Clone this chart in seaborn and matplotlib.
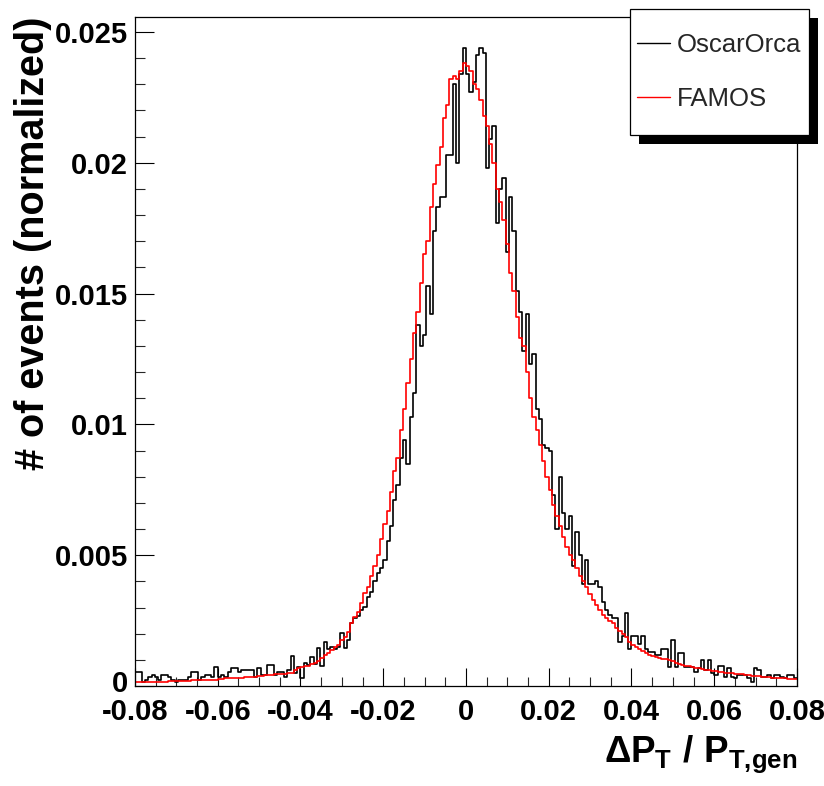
import numpy as np
import pandas as pd
import matplotlib
matplotlib.use("Agg")
import matplotlib.pyplot as plt
import seaborn as sns
from matplotlib.patches import Rectangle
from matplotlib.lines import Line2D
from matplotlib.transforms import ScaledTranslation

# ---------------- data ----------------
x_min, x_max, n_bins = -0.08, 0.08, 200

oscarorca = [
    0.00055, 0.00055, 0.00017, 0.00023, 0.00036, 0.00042, 0.00036, 0.00023, 0.00042, 0.00042,
    0.00036, 0.00023, 0.00017, 0.00023, 0.00023, 0.00023, 0.00036, 0.00055, 0.00055, 0.00023,
    0.00036, 0.00042, 0.00042, 0.00036, 0.00074, 0.00036, 0.00042, 0.00036, 0.00055, 0.00067,
    0.00067, 0.00055, 0.00061, 0.00061, 0.00061, 0.00061, 0.00036, 0.00067, 0.00042, 0.00042,
    0.00080, 0.00080, 0.00042, 0.00055, 0.00055, 0.00036, 0.00061, 0.00115, 0.00050, 0.00074,
    0.00029, 0.00087, 0.00080, 0.00112, 0.00084, 0.00144, 0.00076, 0.00169, 0.00140, 0.00148,
    0.00140, 0.00148, 0.00201, 0.00144, 0.00176, 0.00239, 0.00258, 0.00267, 0.00290, 0.00303,
    0.00341, 0.00360, 0.00400, 0.00430, 0.00450, 0.00480, 0.00555, 0.00610, 0.00710, 0.00770,
    0.00870, 0.00940, 0.00850, 0.01030, 0.01120, 0.01380, 0.01300, 0.01340, 0.01530, 0.01420,
    0.01740, 0.01830, 0.01870, 0.01870, 0.02030, 0.02030, 0.02300, 0.02000, 0.02340, 0.02440,
    0.02340, 0.02270, 0.02310, 0.02410, 0.02440, 0.02420, 0.01980, 0.02090, 0.02140, 0.01770,
    0.01900, 0.01940, 0.01660, 0.01870, 0.01740, 0.01510, 0.01430, 0.01280, 0.01420, 0.01230,
    0.01270, 0.01060, 0.01020, 0.00920, 0.00910, 0.00900, 0.00730, 0.00600, 0.00800, 0.00660,
    0.00600, 0.00650, 0.00460, 0.00590, 0.00500, 0.00390, 0.00480, 0.00390, 0.00390, 0.00400,
    0.00380, 0.00320, 0.00290, 0.00270, 0.00260, 0.00260, 0.00170, 0.00190, 0.00280, 0.00140,
    0.00190, 0.00190, 0.00160, 0.00190, 0.00140, 0.00130, 0.00130, 0.00120, 0.00120, 0.00140,
    0.00140, 0.00074, 0.00176, 0.00074, 0.00125, 0.00125, 0.00074, 0.00074, 0.00074, 0.00055,
    0.00067, 0.00099, 0.00061, 0.00099, 0.00048, 0.00042, 0.00076, 0.00076, 0.00036, 0.00067,
    0.00036, 0.00029, 0.00042, 0.00042, 0.00042, 0.00029, 0.00017, 0.00067, 0.00060, 0.00036,
    0.00036, 0.00042, 0.00029, 0.00042, 0.00042, 0.00036, 0.00029, 0.00042, 0.00042, 0.00029,
]

famos = [
    0.00014, 0.00014, 0.00015, 0.00015, 0.00015, 0.00016, 0.00016, 0.00016, 0.00017, 0.00017,
    0.00018, 0.00019, 0.00020, 0.00020, 0.00021, 0.00021, 0.00021, 0.00022, 0.00022, 0.00022,
    0.00023, 0.00023, 0.00023, 0.00023, 0.00024, 0.00025, 0.00027, 0.00029, 0.00029, 0.00030,
    0.00030, 0.00031, 0.00032, 0.00033, 0.00034, 0.00035, 0.00036, 0.00038, 0.00040, 0.00041,
    0.00043, 0.00043, 0.00044, 0.00045, 0.00046, 0.00047, 0.00049, 0.00051, 0.00061, 0.00067,
    0.00071, 0.00076, 0.00077, 0.00083, 0.00089, 0.00097, 0.00106, 0.00118, 0.00125, 0.00137,
    0.00148, 0.00156, 0.00176, 0.00188, 0.00207, 0.00239, 0.00262, 0.00284, 0.00316, 0.00354,
    0.00380, 0.00420, 0.00460, 0.00500, 0.00560, 0.00620, 0.00670, 0.00740, 0.00820, 0.00870,
    0.00980, 0.01060, 0.01160, 0.01250, 0.01350, 0.01430, 0.01540, 0.01650, 0.01700, 0.01830,
    0.01920, 0.01990, 0.02060, 0.02170, 0.02220, 0.02320, 0.02330, 0.02320, 0.02350, 0.02380,
    0.02370, 0.02350, 0.02300, 0.02280, 0.02240, 0.02180, 0.02140, 0.02070, 0.02000, 0.01900,
    0.01850, 0.01780, 0.01690, 0.01580, 0.01510, 0.01410, 0.01330, 0.01300, 0.01200, 0.01100,
    0.01030, 0.00980, 0.00920, 0.00860, 0.00800, 0.00750, 0.00690, 0.00650, 0.00610, 0.00570,
    0.00530, 0.00500, 0.00480, 0.00450, 0.00420, 0.00400, 0.00380, 0.00350, 0.00330, 0.00310,
    0.00290, 0.00270, 0.00260, 0.00250, 0.00240, 0.00222, 0.00212, 0.00200, 0.00188, 0.00170,
    0.00155, 0.00148, 0.00140, 0.00132, 0.00125, 0.00120, 0.00115, 0.00112, 0.00108, 0.00105,
    0.00102, 0.00098, 0.00094, 0.00089, 0.00085, 0.00081, 0.00078, 0.00075, 0.00072, 0.00069,
    0.00067, 0.00065, 0.00063, 0.00061, 0.00059, 0.00057, 0.00055, 0.00053, 0.00051, 0.00050,
    0.00048, 0.00047, 0.00046, 0.00044, 0.00043, 0.00042, 0.00040, 0.00038, 0.00037, 0.00035,
    0.00034, 0.00033, 0.00032, 0.00031, 0.00030, 0.00029, 0.00029, 0.00028, 0.00028, 0.00027,
]

series_names = ["OscarOrca", "FAMOS"]
series_colors = ["black", "red"]

xtick_values = [-0.08, -0.06, -0.04, -0.02, 0.0, 0.02, 0.04, 0.06, 0.08]
xtick_labels = ["-0.08", "-0.06", "-0.04", "-0.02", "0", "0.02", "0.04", "0.06", "0.08"]
ytick_values = [0.0, 0.005, 0.01, 0.015, 0.02, 0.025]
ytick_labels = ["0", "0.005", "0.01", "0.015", "0.02", "0.025"]
y_top = 0.02557

x_label = r"$\Delta P_{T}\ /\ P_{T{,}gen}$"
y_label = "# of events (normalized)"

# ---------------- style ----------------
sns.set_theme(style="white")
plt.rcParams["font.family"] = ["Liberation Sans", "DejaVu Sans"]
plt.rcParams["mathtext.fontset"] = "custom"
plt.rcParams["mathtext.rm"] = "Liberation Sans:bold"
plt.rcParams["mathtext.it"] = "Liberation Sans:bold"
plt.rcParams["mathtext.bf"] = "Liberation Sans:bold"
plt.rcParams["mathtext.sf"] = "Liberation Sans:bold"

W, H = 824, 786
fig = plt.figure(figsize=(W / 100, H / 100), dpi=100)
fig.patch.set_facecolor("white")
ax = fig.add_axes([135 / W, (H - 686) / H, 662 / W, 669 / H])
ax.set_facecolor("white")

edges = np.linspace(x_min, x_max, n_bins + 1)
centers = 0.5 * (edges[:-1] + edges[1:])
df = pd.DataFrame({
    "x": np.concatenate([centers, centers]),
    "w": np.concatenate([oscarorca, famos]),
    "sample": [series_names[0]] * n_bins + [series_names[1]] * n_bins,
})

for name, color in zip(series_names, series_colors):
    sub = df[df["sample"] == name]
    sns.histplot(data=sub, x="x", weights="w", bins=n_bins, binrange=(x_min, x_max),
                 element="step", fill=False, color=color, linewidth=1.2, ax=ax)

ax.set_xlim(x_min, x_max)
ax.set_ylim(0, y_top)

for s in ["top", "right", "left", "bottom"]:
    ax.spines[s].set_visible(True)
    ax.spines[s].set_color("black")
    ax.spines[s].set_linewidth(0.9)

ax.set_xticks(xtick_values)
ax.set_xticklabels(xtick_labels)
ax.set_xticks(np.arange(-0.08, 0.0801, 0.005), minor=True)
ax.set_yticks(ytick_values)
ax.set_yticklabels(ytick_labels)
ax.set_yticks(np.arange(0, 0.0251, 0.001), minor=True)

ax.tick_params(axis="x", which="major", direction="in", length=13, width=0.8,
               top=False, bottom=True, pad=9, labelsize=21, colors="black")
ax.tick_params(axis="x", which="minor", direction="in", length=6.5, width=0.8,
               top=False, bottom=True)
ax.tick_params(axis="y", which="major", direction="in", length=14, width=0.8,
               left=True, right=False, pad=5, labelsize=21, colors="black")
ax.tick_params(axis="y", which="minor", direction="in", length=7.5, width=0.8,
               left=True, right=False)
for lab in ax.get_xticklabels() + ax.get_yticklabels():
    lab.set_fontweight("bold")

# lift the "0" on the y axis slightly, as in the reference
zero_lab = ax.yaxis.get_major_ticks()[0].label1
zero_lab.set_transform(zero_lab.get_transform() + ScaledTranslation(0, 5 / 100, fig.dpi_scale_trans))

ax.set_xlabel(x_label, loc="right", fontsize=26.5, labelpad=5, color="black")
ax.set_ylabel(y_label, loc="top", fontsize=28.5, fontweight="bold", labelpad=2, color="black")

# ---------------- legend box (ROOT style with shadow) ----------------
bx0, by0, bx1, by1 = 630, 9, 809, 135   # pixel box
sh = 9
fig.add_artist(Rectangle(((bx0 + sh) / W, 1 - (by1 + sh) / H), (bx1 - bx0) / W, (by1 - by0) / H,
                         transform=fig.transFigure, facecolor="black", edgecolor="black",
                         linewidth=0, zorder=2))
fig.add_artist(Rectangle((bx0 / W, 1 - by1 / H), (bx1 - bx0) / W, (by1 - by0) / H,
                         transform=fig.transFigure, facecolor="white", edgecolor="black",
                         linewidth=0.9, zorder=3))
handles = [Line2D([], [], color=c, linewidth=1.0) for c in series_colors]
fig.legend(handles, series_names, loc="center",
           bbox_to_anchor=((bx0 + bx1) / 2 / W, 1 - (by0 + by1) / 2 / H),
           bbox_transform=fig.transFigure, frameon=False, fontsize=18.5,
           handlelength=1.25, handletextpad=0.3, labelspacing=1.2,
           borderpad=0, borderaxespad=0)

fig.savefig("out.png", dpi=100, facecolor="white")
